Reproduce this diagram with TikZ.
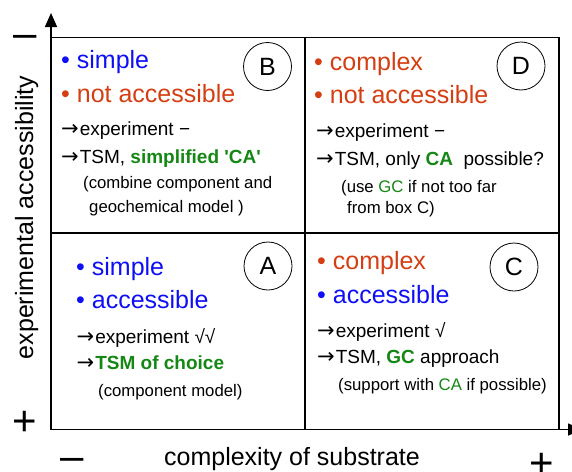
\documentclass[tikz,border=0pt]{standalone}
\usepackage{fontspec}
\newfontfamily\lsans{Liberation Sans}
\newfontfamily\arrfont{DejaVu Sans}
\newcommand\rarr{{\arrfont\fontsize{21}{24}\selectfont →}\kern1pt}
\usetikzlibrary{arrows.meta}
\definecolor{cblue}{RGB}{15,15,245}
\definecolor{cred}{RGB}{212,62,18}
\definecolor{cgreen}{RGB}{20,135,20}
\begin{document}
\begin{tikzpicture}[x=1pt,y=-1pt,
  big/.style={font=\lsans\fontsize{25}{30}\selectfont, inner sep=0pt, anchor=base west},
  mid/.style={font=\lsans\fontsize{19}{23}\selectfont, inner sep=0pt, anchor=base west},
  small/.style={font=\lsans\fontsize{16.75}{20}\selectfont, inner sep=0pt, anchor=base west},
  sign/.style={font=\lsans\fontsize{42}{48}\selectfont, inner sep=0pt, anchor=base},
  lab/.style={font=\lsans\fontsize{25}{30}\selectfont, inner sep=0pt, anchor=base},
  tag/.style={draw, circle, line width=0.8pt, minimum size=48pt, inner sep=0pt, font=\lsans\fontsize{25}{30}\selectfont},
  gridline/.style={line width=1.1pt},
  axis/.style={line width=1.6pt, -{Triangle[width=12pt,length=14pt]}}
]
\useasboundingbox (0,0) rectangle (572,471);
% frame coordinates
\coordinate (o) at (51,429.5);
\coordinate (ytip) at (51,13);
\coordinate (xtip) at (582,429.5);
\coordinate (tl) at (51,37.5);
\coordinate (tr) at (559,37.5);
\coordinate (br) at (559,429.5);
\coordinate (tm) at (305,37.5);
\coordinate (bm) at (305,429.5);
\coordinate (ml) at (51,233);
\coordinate (mr) at (559,233);
\draw[gridline] (tl) -- (tr) -- (br);
\draw[gridline] (tm) -- (bm);
\draw[gridline] (ml) -- (mr);
\draw[axis] (o) -- (ytip);
\draw[axis] (o) -- (xtip);

% axis signs and labels
\node[sign] (ymin) at (25,47.6) {–};
\node[sign] (yplus) at (25,435.8) {+};
\node[sign] (xmin) at (72.5,470.6) {\smash{–}};
\node[sign] (xplus) at (542,477.8) {\smash{+}};
\node[lab, rotate=90] (ylab) at (33,217.5) {experimental accessibility};
\node[lab] (xlab) at (292,465) {complexity of substrate};

% Box B
\node[big, text=cblue] (b1) at (61,68) {• simple};
\node[big, text=cred] (b2) at (61,102) {• not accessible};
\node[mid] (b3) at (61,135) {\rarr experiment −};
\node[mid] (b4) at (61,163) {\rarr TSM, \textcolor{cgreen}{\bfseries simplified 'CA'}};
\node[small] (b5) at (83,188) {(combine component and};
\node[small] (b6) at (89,212) {geochemical model )};
\node[tag] (B) at (267.5,66.5) {B};

% Box D
\node[big, text=cred] (d1) at (314,70) {• complex};
\node[big, text=cred] (d2) at (314,103) {• not accessible};
\node[mid] (d3) at (316,137) {\rarr experiment −};
\node[mid] (d4) at (316,165) {\rarr TSM, only \textcolor{cgreen}{\bfseries CA}\ \ possible?};
\node[small] (d5) at (341,192) {(use \textcolor{cgreen}{GC} if not too far};
\node[small] (d6) at (347,213) {from box C)};
\node[tag] (D) at (521,66) {D};

% Box A
\node[big, text=cblue] (a1) at (76,275) {• simple};
\node[big, text=cblue] (a2) at (76,308) {• accessible};
\node[mid] (a3) at (76.5,343) {\rarr experiment √√};
\node[mid] (a4) at (76.5,369) {\rarr\textcolor{cgreen}{\bfseries TSM of choice}};
\node[small] (a5) at (98,396) {(component model)};
\node[tag] (A) at (268,266) {A};

% Box C
\node[big, text=cred] (c1) at (317,269) {• complex};
\node[big, text=cblue] (c2) at (317,303) {• accessible};
\node[mid] (c3) at (317,337) {\rarr experiment √};
\node[mid] (c4) at (317,363) {\rarr TSM, \textcolor{cgreen}{\bfseries GC} approach};
\node[small] (c5) at (338,390) {(support with \textcolor{cgreen}{CA} if possible)};
\node[tag] (C) at (514,267) {C};
\end{tikzpicture}
\end{document}
